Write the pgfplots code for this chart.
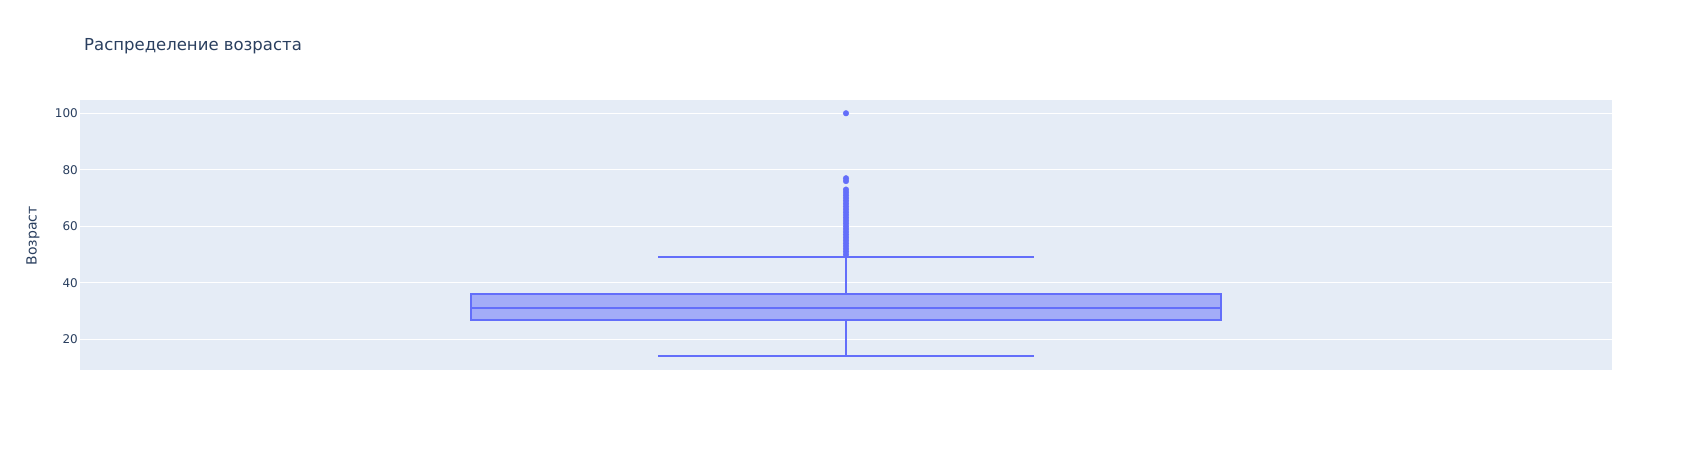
\documentclass[border=0pt]{standalone}
\usepackage{fontspec}
\setmainfont{DejaVu Sans}
\usepackage{pgfplots}
\pgfplotsset{compat=1.18}
\usepgfplotslibrary{statistics}
\definecolor{bgplot}{HTML}{E5ECF6}
\definecolor{pbox}{HTML}{636EFA}
\definecolor{ptext}{HTML}{2A3F5F}
\begin{document}
\begin{tikzpicture}
\useasboundingbox (0pt,0pt) rectangle (1691pt,450pt);
\fill[white] (0pt,0pt) rectangle (1691pt,450pt);
\begin{axis}[
  at={(80pt,80pt)}, anchor=south west,
  scale only axis, width=1532pt, height=270pt,
  xmin=-0.5, xmax=0.5, ymin=9.13, ymax=104.7,
  axis background/.style={fill=bgplot},
  axis line style={draw=none},
  xtick=\empty,
  ytick={20,40,60,80,100},
  major tick length=0pt,
  ymajorgrids, grid style={white, line width=1pt},
  yticklabel style={font=\fontsize{12}{14}\selectfont, text=ptext, inner sep=0pt, xshift=-2pt},
  /pgf/number format/assume math mode=true,
]
\addplot[boxplot/draw direction=y,
  boxplot prepared={lower whisker=14, lower quartile=27, median=31,
    upper quartile=36, upper whisker=49, draw position=0,
    box extend=0.49, whisker extend=0.245},
  draw=pbox, fill=pbox, fill opacity=0.5, line width=2pt] coordinates {};
\addplot[only marks, color=pbox, mark=*, mark size=2.8pt] coordinates {
(0,50)(0,51)(0,52)(0,53)(0,54)(0,55)(0,56)(0,57)(0,58)(0,59)(0,60)(0,61)
(0,62)(0,63)(0,64)(0,65)(0,66)(0,67)(0,68)(0,69)(0,70)(0,71)(0,72)(0,73)
(0,76)(0,77)(0,100)};
\end{axis}
\node[anchor=base west, font=\fontsize{16.5}{20}\selectfont, text=ptext, inner sep=0pt] at (84pt,399.3pt) {Распределение возраста};
\node[rotate=90, anchor=base, font=\fontsize{14}{17}\selectfont, text=ptext, inner sep=0pt] at (36.5pt,214pt) {Возраст};
\end{tikzpicture}
\end{document}
